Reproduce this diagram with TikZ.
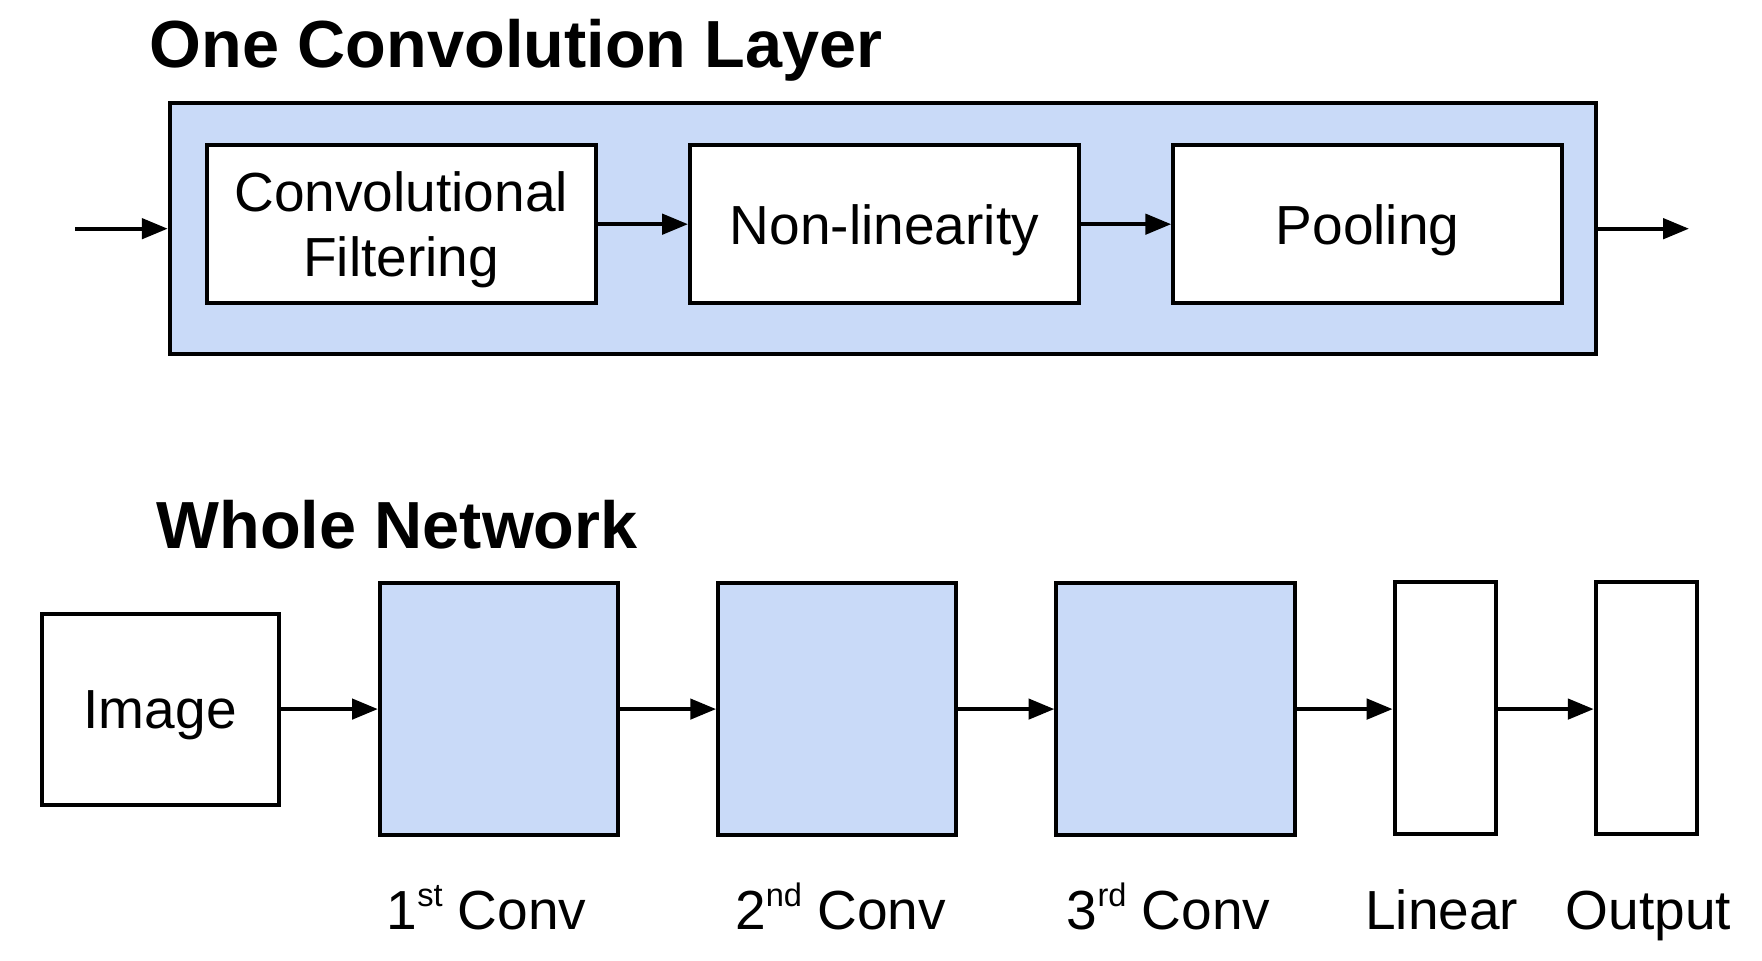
\documentclass[tikz,border=0pt]{standalone}
\usepackage{fontspec}
\setmainfont{Liberation Sans}
\usetikzlibrary{arrows.meta}
\definecolor{convblue}{HTML}{C9DAF8}
\newcommand{\supx}[1]{\raisebox{0.42em}{\fontsize{29}{30}\selectfont #1}}
\begin{document}
\begin{tikzpicture}[x=1pt,y=-1pt,
  blk/.style={draw, line width=3.5pt, rectangle, inner sep=0pt, align=center,
    font=\fontsize{49}{58}\selectfont, fill=white, text depth=0pt},
  convblk/.style={blk, fill=convblue},
  arr/.style={line width=3.5pt, -{Triangle[length=23pt,width=18pt]}},
  ttl/.style={font=\fontsize{59.3}{70}\selectfont\bfseries, anchor=base west, inner sep=0pt},
  lbl/.style={font=\fontsize{49}{58}\selectfont, anchor=base, inner sep=0pt}]
\useasboundingbox (0,0) rectangle (1568,854.3);
% titles
\node[ttl] (t1) at (133,60) {One Convolution Layer};
\node[ttl] (t2) at (139,488) {Whole Network};
% one layer
\node[convblk, minimum width=1269pt, minimum height=223pt] (outer) at (785.5,203.5) {};
\node[blk, minimum width=346pt, minimum height=141pt] (cf) at (357,199.5) {Convolutional\\Filtering};
\node[blk, minimum width=346pt, minimum height=141pt] (nl) at (787,199.5) {Non-linearity};
\node[blk, minimum width=346pt, minimum height=141pt] (pool) at (1217,199.5) {Pooling};
\coordinate (in) at (67,203.5);
\coordinate (out) at (1503,203.5);
\draw[arr] (in) -- (outer.west);
\draw[arr] (cf.east) -- (nl.west);
\draw[arr] (nl.east) -- (pool.west);
\draw[arr] (outer.east) -- (out);
% whole network
\node[blk, minimum width=211pt, minimum height=170pt] (img) at (142.5,631) {Image};
\node[convblk, minimum width=212pt, minimum height=224pt] (c1) at (444,631) {};
\node[convblk, minimum width=212pt, minimum height=224pt] (c2) at (745,631) {};
\node[convblk, minimum width=212pt, minimum height=224pt] (c3) at (1046,631) {};
\node[blk, minimum width=90pt, minimum height=224pt] (lin) at (1286,630) {};
\node[blk, minimum width=90pt, minimum height=224pt] (outp) at (1465,630) {};
\draw[arr] (img.east) -- (c1.west);
\draw[arr] (c1.east) -- (c2.west);
\draw[arr] (c2.east) -- (c3.west);
\draw[arr] (c3.east) -- (c3.east -| lin.west);
\draw[arr] (lin.east |- c3.east) -- (c3.east -| outp.west);
% labels
\node[lbl] (l1) at (433,827) {1\supx{st} Conv};
\node[lbl] (l2) at (748,827) {2\supx{nd} Conv};
\node[lbl] (l3) at (1040,827) {3\supx{rd} Conv};
\node[lbl] (l4) at (1283,827) {Linear};
\node[lbl] (l5) at (1467,827) {Output};
\end{tikzpicture}
\end{document}
